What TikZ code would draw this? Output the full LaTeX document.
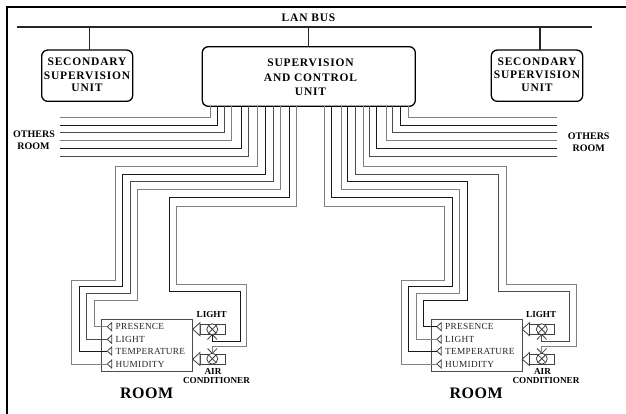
\documentclass[tikz,border=0pt]{standalone}
\usepackage{fontspec}
\setmainfont{Liberation Serif}
\newfontfamily\boxfont[LetterSpace=7]{Liberation Serif Bold}
\newfontfamily\boldsmall{Liberation Serif Bold}
\newfontfamily\roomfont[LetterSpace=3]{Liberation Serif Bold}
\newfontfamily\sensorfont[LetterSpace=3]{Liberation Serif}
\definecolor{wa}{gray}{0.5}
\definecolor{wb}{gray}{0.1}
\definecolor{wc}{gray}{0.3}
\tikzset{
  unitbox/.style={draw=black,line width=1.3pt,rounded corners=6pt,inner sep=0pt,outer sep=0pt,fill=white},
  boxtext/.style={inner sep=0pt,font=\boxfont\fontsize{11.5}{13}\selectfont},
  smalltext/.style={inner sep=0pt,font=\boldsmall\fontsize{9.2}{10}\selectfont},
  othertext/.style={inner sep=0pt,font=\boldsmall\fontsize{10}{11}\selectfont},
  roomtext/.style={inner sep=0pt,font=\roomfont\fontsize{16}{18}\selectfont},
  sensortext/.style={inner sep=0pt,anchor=west,text=black!85,font=\sensorfont\fontsize{9.3}{10}\selectfont},
  wire/.style={line width=0.9pt,line join=miter},
  bus/.style={draw=black!85,line width=1.1pt},
  roomrect/.style={draw=black!70,line width=0.9pt,inner sep=0pt,outer sep=0pt},
  thin part/.style={draw=black!75,line width=0.8pt},
  lampbox/.style={draw=black!75,line width=0.8pt,inner sep=0pt,outer sep=0pt},
  lampc/.style={circle,draw=black!75,line width=0.8pt,fill=white,minimum size=11pt,inner sep=0pt,outer sep=0pt}
}
\begin{document}
\begin{tikzpicture}[x=1pt,y=-1pt]
\useasboundingbox (0,0) rectangle (626,414);
% frame
\draw[line width=2pt,black] (7,414) -- (7,7) -- (626,7);
% LAN bus
\coordinate (busL) at (16.7,27);
\coordinate (busR) at (592,27);
\draw[bus] (busL) -- (busR);
\node[boxtext] (lan) at (308.5,18) {LAN BUS};
% units
\node[unitbox,minimum width=91pt,minimum height=51.3pt] (secL) at (87.2,75.7) {};
\node[unitbox,minimum width=213pt,minimum height=59.6pt] (main) at (308.8,76.5) {};
\node[unitbox,minimum width=91.4pt,minimum height=51.3pt] (secR) at (537,75.7) {};
\node[boxtext] (t1) at (87,62) {SECONDARY};
\node[boxtext] (t2) at (87,75.7) {SUPERVISION};
\node[boxtext] (t3) at (87,87.5) {UNIT};
\node[boxtext] (t4) at (537,62) {SECONDARY};
\node[boxtext] (t5) at (537,75.2) {SUPERVISION};
\node[boxtext] (t6) at (537,87.5) {UNIT};
\node[boxtext] (t7) at (310.5,62.7) {SUPERVISION};
\node[boxtext] (t8) at (310.5,77.3) {AND CONTROL};
\node[boxtext] (t9) at (310.5,92) {UNIT};
\coordinate (tapL) at (89.3,27);
\coordinate (tapM) at (308.3,27);
\coordinate (tapR) at (540,27);
\draw[draw=black!85,line width=1.2pt] (tapL) -- (secL.north -| tapL);
\draw[draw=black!85,line width=1.2pt] (tapM) -- (main.north -| tapM);
\draw[draw=black!85,line width=1.2pt] (tapR) -- (secR.north -| tapR);
% others
\node[othertext] (o1) at (34,134) {OTHERS};
\node[othertext] (o2) at (33.5,146) {ROOM};
\node[othertext] (o3) at (588.7,136.7) {OTHERS};
\node[othertext] (o4) at (588.7,148.7) {ROOM};
% wires to other rooms
\foreach \n/\x/\y/\e/\c in {
  a/210/117.7/60/wa, b/217.3/125.3/60/wb, c/224.7/132.3/60/wc,
  d/231.7/140/60/wa, e/241/148.3/60/wb, f/248.7/156.7/60/wc,
  g/408/117.7/556.7/wa, h/400.3/125.3/556.7/wb, i/392.7/132.3/556.7/wc,
  j/386/140/556.7/wa, k/376.7/148.3/556.7/wb, l/369/156.7/556.7/wc}{
  \coordinate (m\n) at (\x,106.3);
  \coordinate (end\n) at (\e,\y);
  \draw[wire,draw=\c] (m\n) |- (end\n);
}
% rooms
\foreach \p/\d in {A/0,B/329.5}{
\begin{scope}[xshift=\d pt]
  \node[roomrect,minimum width=91pt,minimum height=52.7pt] (\p room) at (147.2,345.3) {};
  \foreach \q/\y/\s in {1/326.7/PRESENCE,2/339.3/LIGHT,3/351/TEMPERATURE,4/364/HUMIDITY}{
    \coordinate (\p s\q) at (107.3,\y);
    \draw[thin part,fill=white] (\p s\q) -- (111.7,\y-4) -- (111.7,\y+4) -- cycle;
    \node[sensortext] (\p txt\q) at (115.5,\y) {\s};
  }
  % light
  \node[lampbox,minimum width=25pt,minimum height=9.7pt] (\p lb) at (212.5,329.2) {};
  \draw[thin part,fill=white] (\p room.east |- \p lb) -- (\p lb.west |- 0,322.7) -- (\p lb.west |- 0,335.7) -- cycle;
  \node[lampc] (\p l) at (212.3,329.3) {};
  \draw[thin part] (\p l.45) -- (\p l.225) (\p l.135) -- (\p l.315);
  \draw[thin part] (207.5,339.5) -- (212.3,334.5) -- (217.1,339.5);
  % air conditioner
  \node[lampbox,minimum width=25pt,minimum height=10.3pt] (\p ab) at (212.5,359.2) {};
  \draw[thin part,fill=white] (\p room.east |- \p ab) -- (\p ab.west |- 0,352.5) -- (\p ab.west |- 0,365.5) -- cycle;
  \node[lampc] (\p a) at (212.3,358.7) {};
  \draw[thin part] (\p a.45) -- (\p a.225) (\p a.135) -- (\p a.315);
  \draw[thin part] (207.5,348.5) -- (212.3,353.3) -- (217.1,348.5);
  \coordinate (\p lt) at (212.3,334.5);
  \coordinate (\p at) at (212.3,353.3);
  \node[smalltext] (\p lab1) at (211.7,314.5) {LIGHT};
  \node[smalltext] (\p lab2) at (213,371.5) {AIR};
  \node[smalltext] (\p lab3) at (216.5,380.7) {CONDITIONER};
  \node[roomtext] (\p lab4) at (146.7,393) {ROOM};
\end{scope}
}
% wires to left room
\coordinate (w1) at (257.7,106.3);
\coordinate (w2) at (265.7,106.3);
\coordinate (w3) at (273.3,106.3);
\coordinate (w4) at (280,106.3);
\coordinate (w5) at (289.3,106.3);
\coordinate (w6) at (296.7,106.3);
\draw[wire,draw=wa] (w1) -- (257.7,166.7) -- (115.3,166.7) -- (115.3,280) -- (71.7,280) -- (71.7,364) -- (As4);
\draw[wire,draw=wb] (w2) -- (265.7,174.7) -- (122.7,174.7) -- (122.7,286) -- (79,286) -- (79,351) -- (As3);
\draw[wire,draw=wc] (w3) -- (273.3,181.3) -- (130.3,181.3) -- (130.3,293.3) -- (86.7,293.3) -- (86.7,339.3) -- (As2);
\draw[wire,draw=wa] (w4) -- (280,189.3) -- (137.3,189.3) -- (137.3,300) -- (94,300) -- (94,326.7) -- (As1);
\draw[wire,draw=wb] (w5) -- (289.3,197.7) -- (169,197.7) -- (169,291) -- (240,291) -- (240,341) -- (212.3,341) -- (Alt);
\draw[wire,draw=wa] (w6) -- (296.7,206) -- (176.3,206) -- (176.3,284.3) -- (246.7,284.3) -- (246.7,346.3) -- (212.3,346.3) -- (Aat);
% wires to right room
\coordinate (v1) at (324,106.3);
\coordinate (v2) at (331.7,106.3);
\coordinate (v3) at (341,106.3);
\coordinate (v4) at (347.7,106.3);
\coordinate (v5) at (355.3,106.3);
\coordinate (v6) at (363.3,106.3);
\draw[wire,draw=wa] (v1) -- (324,206) -- (444.7,206) -- (444.7,280) -- (401.2,280) -- (401.2,364) -- (Bs4);
\draw[wire,draw=wb] (v2) -- (331.7,197.7) -- (452.7,197.7) -- (452.7,286) -- (408.5,286) -- (408.5,351) -- (Bs3);
\draw[wire,draw=wa] (v3) -- (341,189.3) -- (459.8,189.3) -- (459.8,293.3) -- (416.2,293.3) -- (416.2,339.3) -- (Bs2);
\draw[wire,draw=wb] (v4) -- (347.7,181.3) -- (467,181.3) -- (467,300) -- (423.5,300) -- (423.5,326.7) -- (Bs1);
\draw[wire,draw=wc] (v5) -- (355.3,174.7) -- (498.5,174.7) -- (498.5,291) -- (569.5,291) -- (569.5,341) -- (541.8,341) -- (Blt);
\draw[wire,draw=wa] (v6) -- (363.3,166.7) -- (506,166.7) -- (506,284.3) -- (576.2,284.3) -- (576.2,346.3) -- (541.8,346.3) -- (Bat);
\end{tikzpicture}
\end{document}
